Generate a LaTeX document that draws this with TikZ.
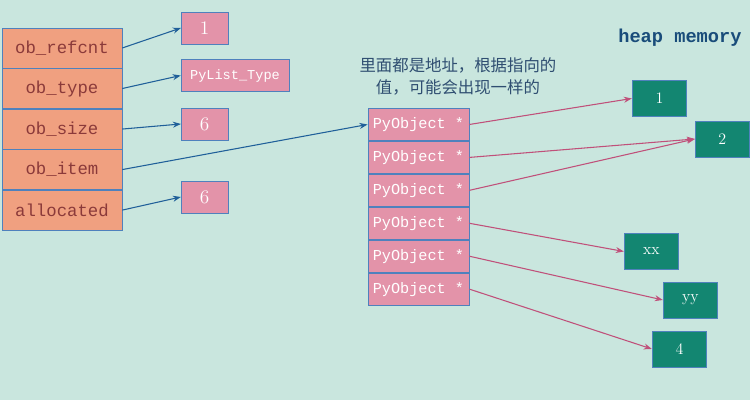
\documentclass[tikz,border=0pt]{standalone}
\usepackage{fontspec}
\setmonofont{Liberation Mono}
\newfontfamily\cjk{Noto Sans CJK SC}
\usetikzlibrary{positioning,arrows.meta}
\definecolor{bgc}{HTML}{C9E6DE}
\definecolor{fieldc}{HTML}{F0A080}
\definecolor{pinkc}{HTML}{E393A9}
\definecolor{tealc}{HTML}{138671}
\definecolor{edgec}{HTML}{4F81BD}
\definecolor{bluearr}{HTML}{1F5F99}
\definecolor{pinkarr}{HTML}{C0507A}
\definecolor{fieldtxt}{HTML}{8B3A3A}
\begin{document}
\begin{tikzpicture}[
        x=0.75pt, y=-0.75pt,
        font=\ttfamily,
        >={Stealth[length=6pt]},
        field/.style={draw=edgec, fill=fieldc, text=fieldtxt, minimum width=90pt, minimum height=30pt, font=\ttfamily\fontsize{13}{15}\selectfont, inner sep=0pt},
        val/.style={draw=edgec, fill=pinkc, text=white, minimum width=35pt, minimum height=24pt, font=\rmfamily\Large, inner sep=0pt},
        ptr/.style={draw=edgec, fill=pinkc, text=white, minimum width=76pt, minimum height=24.3pt, font=\ttfamily\fontsize{11.4}{13}\selectfont, inner sep=0pt},
        heap/.style={draw=edgec, fill=tealc, text=white, minimum width=41pt, minimum height=27pt, font=\rmfamily\large, inner sep=0pt},
        barr/.style={->, thick, draw=bluearr},
        parr/.style={->, thick, draw=pinkarr}
    ]
        \fill[bgc] (0,0) rectangle (750,400);

        % PyListObject fields
        \node[field] (refcnt) at (62,48) {ob\_refcnt};
        \node[field, below=0pt of refcnt] (type) {ob\_type};
        \node[field, below=0pt of type] (size) {ob\_size};
        \node[field, below=0pt of size] (item) {ob\_item};
        \node[field, below=0pt of item] (alloc) {allocated};

        % Field values
        \node[val] (vref) at (204.5,28) {1};
        \node[val, minimum width=81pt, font=\ttfamily\fontsize{10.2}{12}\selectfont] (vtype) at (235,75.5) {PyList\_Type};
        \node[val] (vsize) at (204.5,124) {6};
        \node[val] (valloc) at (204.5,197) {6};

        \draw[barr] (refcnt.east) -- (vref.west);
        \draw[barr] (type.east) -- (vtype.west);
        \draw[barr] (size.east) -- (vsize.west);
        \draw[barr] (alloc.east) -- (valloc.west);

        % Item array
        \node[ptr] (p1) at (418.5,124.5) {PyObject *};
        \foreach \i [count=\j from 1] in {2,...,6}
            \node[ptr, below=0pt of p\j] (p\i) {PyObject *};
        \draw[barr] (item.east) -- (p1.west);

        \node[font=\cjk\fontsize{12.3}{16.5}\selectfont, text=edgec!60!black, align=center] (note) at (458,76) {里面都是地址，根据指向的\\值，可能会出现一样的};

        % Heap objects
        \node[font=\ttfamily\bfseries\fontsize{14}{16}\selectfont, text=bluearr!80!black] (title) at (680,38) {heap memory};
        \node[heap] (h1) at (659.5,98.5) {1};
        \node[heap] (h2) at (722.5,139) {2};
        \node[heap] (hxx) at (651.5,251.5) {xx};
        \node[heap] (hyy) at (690.5,300) {yy};
        \node[heap] (h4) at (679.5,349) {4};

        \draw[parr] (p1.east) -- (h1.west);
        \draw[parr] (p2.east) -- (h2.west);
        \draw[parr] (p3.east) -- (h2.west);
        \draw[parr] (p4.east) -- (hxx.west);
        \draw[parr] (p5.east) -- (hyy.west);
        \draw[parr] (p6.east) -- (h4.west);
\end{tikzpicture}
\end{document}
